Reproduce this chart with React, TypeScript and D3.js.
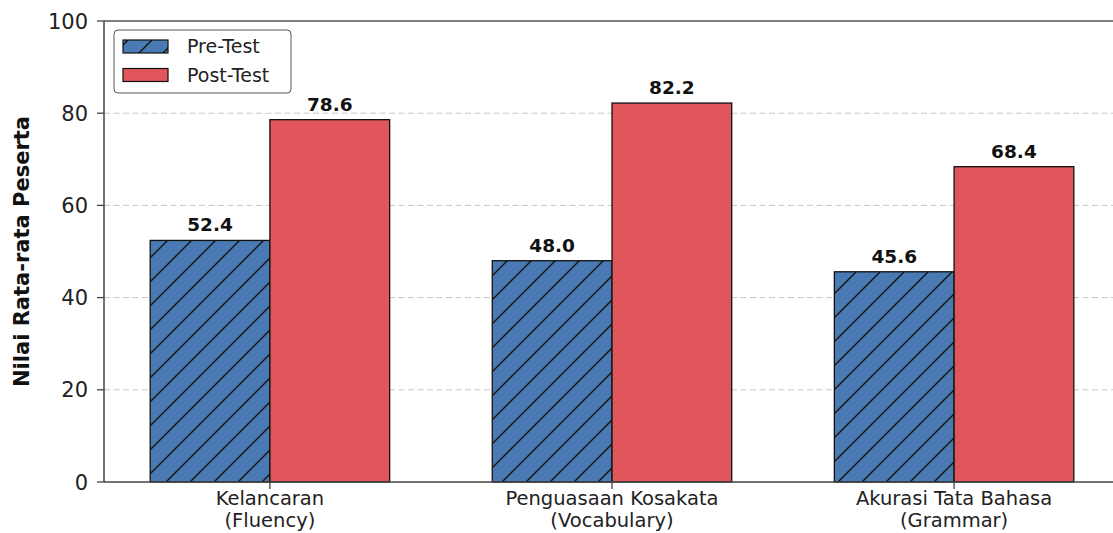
import * as d3 from 'd3';

const categories = ['Kelancaran\n(Fluency)', 'Penguasaan Kosakata\n(Vocabulary)', 'Akurasi Tata Bahasa\n(Grammar)'];
const preTest = [52.4, 48.0, 45.6];
const postTest = [78.6, 82.2, 68.4];
const yTicks = [0, 20, 40, 60, 80, 100];
const seriesNames = ['Pre-Test', 'Post-Test'];

const W = 1113;
const H = 533;
const FONT = "'DejaVu Sans', sans-serif";
const BLUE = '#4a7ab3';
const RED = '#e0565a';

export default function App() {
  const x = d3.scaleLinear().domain([-0.485, 2.485]).range([104, 1120]);
  const y = d3.scaleLinear().domain([0, 100]).range([482, 21]);
  const barW = x(0.35) - x(0);

  const series = [
    { name: seriesNames[0], values: preTest, fill: BLUE, hatch: true, offset: -0.35 },
    { name: seriesNames[1], values: postTest, fill: RED, hatch: false, offset: 0 },
  ];

  return (
    <svg width={W} height={H} style={{ position: 'absolute', left: 0, top: 0 }} fontFamily={FONT}>
      <defs>
        <pattern id="hatch" patternUnits="userSpaceOnUse" width={24} height={24}>
          <rect width={24} height={24} fill={BLUE} />
          <path d="M0,24 L24,0 M-6,6 L6,-6 M18,30 L30,18" stroke="#111" strokeWidth={1.4} />
        </pattern>
      </defs>
      <rect width={W} height={H} fill="#fff" />

      {/* grid */}
      {yTicks.filter((t) => t > 0 && t < 100).map((t) => (
        <line key={t} x1={x(-0.485)} x2={W} y1={y(t)} y2={y(t)} stroke="#c8c8c8" strokeWidth={1} strokeDasharray="6,3.5" />
      ))}

      {/* bars */}
      {series.map((s) =>
        s.values.map((v, i) => (
          <g key={s.name + i}>
            <rect
              x={x(i + s.offset)}
              y={y(v)}
              width={barW}
              height={y(0) - y(v)}
              fill={s.hatch ? 'url(#hatch)' : s.fill}
              stroke="#111"
              strokeWidth={1.3}
            />
            <text
              x={x(i + s.offset) + barW / 2}
              y={y(v) - 9}
              textAnchor="middle"
              fontWeight="bold"
              fontSize={18.5}
              fill="#111"
            >
              {v.toFixed(1)}
            </text>
          </g>
        ))
      )}

      {/* spines */}
      <line x1={x(-0.485)} x2={x(-0.485)} y1={y(0)} y2={y(100)} stroke="#444" strokeWidth={1.5} />
      <line x1={x(-0.485)} x2={W} y1={y(0)} y2={y(0)} stroke="#444" strokeWidth={1.5} />
      <line x1={x(-0.485)} x2={W} y1={y(100)} y2={y(100)} stroke="#555" strokeWidth={1.5} />

      {/* y ticks */}
      {yTicks.map((t) => (
        <g key={t}>
          <line x1={x(-0.485) - 7} x2={x(-0.485)} y1={y(t)} y2={y(t)} stroke="#444" strokeWidth={1.3} />
          <text x={88} y={y(t)} dy="0.36em" textAnchor="end" fontSize={21} fill="#222">
            {t}
          </text>
        </g>
      ))}

      {/* x ticks */}
      {categories.map((c, i) => (
        <g key={c}>
          <line x1={x(i)} x2={x(i)} y1={y(0)} y2={y(0) + 7} stroke="#444" strokeWidth={1.3} />
          {c.split('\n').map((line, j) => (
            <text key={j} x={x(i)} y={505 + j * 22} textAnchor="middle" fontSize={19.5} fill="#222">
              {line}
            </text>
          ))}
        </g>
      ))}

      {/* y label */}
      <text
        transform={`translate(29,${(y(0) + y(100)) / 2}) rotate(-90)`}
        textAnchor="middle"
        fontWeight="bold"
        fontSize={21}
        fill="#111"
      >
        Nilai Rata-rata Peserta
      </text>

      {/* legend */}
      <g>
        <rect x={114} y={30} width={177} height={63} rx={4} fill="#fff" fillOpacity={0.85} stroke="#555" strokeWidth={1} />
        {series.map((s, i) => (
          <g key={s.name}>
            <rect
              x={123}
              y={40 + i * 28.5}
              width={45}
              height={13}
              fill={s.hatch ? 'url(#hatch)' : s.fill}
              stroke="#111"
              strokeWidth={1.2}
            />
            <text x={187} y={46.5 + i * 28.5} dy="0.36em" fontSize={19} fill="#222">
              {s.name}
            </text>
          </g>
        ))}
      </g>
    </svg>
  );
}
